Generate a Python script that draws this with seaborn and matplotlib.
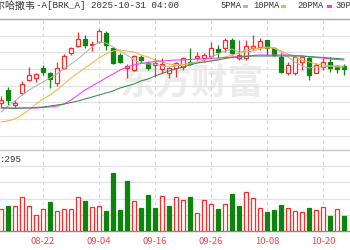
import matplotlib
matplotlib.use("Agg")
import matplotlib.pyplot as plt
from matplotlib.patches import Rectangle
import seaborn as sns

# ---------------- data (prices in thousands USD) ----------------
dates = ["08-14", "08-15", "08-18", "08-19", "08-20", "08-21", "08-22", "08-25", "08-26", "08-27",
         "08-28", "08-29", "09-02", "09-03", "09-04", "09-05", "09-08", "09-09", "09-10", "09-11",
         "09-12", "09-15", "09-16", "09-17", "09-18", "09-19", "09-22", "09-23", "09-24", "09-25",
         "09-26", "09-29", "09-30", "10-01", "10-02", "10-03", "10-06", "10-07", "10-08", "10-09",
         "10-10", "10-13", "10-14", "10-15", "10-16", "10-17", "10-20", "10-21", "10-22", "10-23"]
tick_dates = ["08-22", "09-04", "09-16", "09-26", "10-08", "10-20"]

opens = [709.6, 717.4, 708.4, 715.6, 723.4, 724.6, 730.6, 727.6, 721.6, 730.6,
         739.6, 743.8, 748.0, 744.4, 746.2, 751.6, 742.6, 738.4, 730.6, 729.4,
         737.2, 733.6, 732.4, 730.0, 727.6, 730.6, 731.2, 734.2, 736.6, 736.6,
         737.8, 742.0, 742.6, 747.4, 736.6, 736.6, 742.6, 743.2, 747.4, 742.6,
         737.2, 727.6, 727.6, 734.2, 736.6, 727.6, 731.2, 734.2, 731.8, 731.8]
highs = [713.8, 719.2, 711.4, 722.8, 731.2, 727.6, 732.4, 728.2, 734.2, 739.0,
         743.2, 752.2, 750.4, 746.8, 754.0, 752.8, 743.2, 739.6, 733.0, 738.4,
         738.4, 734.8, 736.6, 736.6, 731.2, 734.2, 737.2, 742.6, 740.2, 739.6,
         746.2, 744.4, 748.6, 748.6, 747.4, 747.4, 750.4, 748.6, 747.4, 743.2,
         739.6, 734.2, 738.4, 738.4, 737.2, 733.6, 736.6, 737.2, 732.4, 733.0]
lows = [707.2, 708.4, 706.6, 714.4, 722.8, 722.2, 726.4, 718.6, 719.8, 730.0,
        738.4, 743.2, 742.6, 740.8, 745.6, 741.4, 733.0, 733.6, 724.6, 728.8,
        733.6, 729.4, 725.2, 727.6, 724.6, 725.2, 729.4, 732.4, 735.4, 734.2,
        736.6, 736.6, 740.2, 738.4, 735.4, 735.4, 741.4, 741.4, 738.4, 737.8,
        727.6, 726.4, 726.4, 729.4, 723.4, 727.6, 729.4, 728.2, 727.6, 726.4]
closes = [711.4, 711.7, 709.6, 721.0, 726.4, 727.0, 728.2, 724.0, 730.6, 737.8,
          742.6, 748.0, 744.4, 745.3, 752.8, 744.4, 733.6, 734.2, 731.8, 737.8,
          735.4, 730.6, 733.6, 733.0, 730.6, 733.6, 736.6, 733.0, 737.8, 738.4,
          742.6, 740.2, 747.4, 739.6, 738.4, 743.8, 743.8, 746.8, 742.6, 738.4,
          728.2, 732.4, 737.2, 737.2, 726.4, 732.4, 734.2, 730.6, 730.0, 730.0]

ma5 = [704.2, 707.8, 710.8, 714.4, 717.4, 719.8, 722.2, 724.6, 727.0, 730.0,
       733.0, 736.0, 739.6, 743.2, 746.2, 745.6, 743.2, 740.8, 738.4, 735.4,
       733.6, 733.0, 733.0, 731.8, 731.2, 731.8, 732.4, 733.6, 734.2, 735.4,
       737.2, 739.0, 740.8, 742.0, 740.2, 740.2, 740.8, 742.0, 743.2, 742.6,
       740.2, 737.2, 734.2, 731.8, 730.6, 731.2, 731.2, 731.8, 731.2, 731.2]
ma10 = [698.2, 698.8, 700.0, 702.4, 705.4, 709.0, 712.0, 714.4, 717.4, 721.0,
        724.6, 727.6, 730.6, 733.6, 736.6, 739.0, 740.8, 741.4, 740.8, 740.2,
        738.4, 737.2, 735.4, 734.2, 733.0, 732.4, 732.4, 733.0, 733.6, 734.2,
        734.8, 736.0, 737.2, 738.4, 739.6, 741.4, 742.0, 742.6, 742.6, 742.6,
        740.8, 739.0, 737.2, 735.4, 734.2, 733.0, 732.4, 731.8, 731.8, 731.8]
ma20 = [706.6, 706.6, 706.6, 706.6, 706.6, 706.6, 706.9, 707.2, 707.8, 709.0,
        711.4, 714.4, 717.4, 719.8, 722.2, 724.6, 727.0, 729.4, 731.2, 732.4,
        733.3, 733.9, 734.5, 734.8, 735.1, 735.4, 735.4, 735.7, 736.0, 736.0,
        736.3, 736.6, 736.9, 737.2, 737.5, 737.8, 738.1, 738.4, 738.4, 738.4,
        738.4, 738.4, 738.1, 737.8, 737.2, 736.9, 736.6, 736.0, 735.7, 735.4]
ma30 = [706.6, 706.6, 706.3, 706.6, 706.6, 706.9, 707.2, 707.8, 708.4, 709.0,
        709.9, 710.8, 712.0, 713.2, 714.4, 715.6, 716.8, 718.6, 719.8, 721.0,
        722.8, 724.0, 725.8, 727.3, 728.8, 730.0, 731.2, 732.4, 733.6, 734.2,
        734.8, 735.4, 736.3, 736.9, 737.2, 737.5, 737.8, 737.8, 737.8, 737.8,
        737.8, 737.8, 737.8, 737.8, 737.5, 737.2, 736.9, 736.6, 736.3, 736.0]

volumes = [136, 156, 156, 212, 156, 99, 136, 179, 125, 136,
           136, 212, 185, 150, 156, 123, 360, 130, 309, 185,
           142, 222, 142, 218, 156, 210, 191, 212, 113, 191,
           168, 136, 168, 230, 156, 242, 202, 144, 119, 128,
           160, 144, 123, 119, 140, 130, 146, 91, 134, 91]
vol_up = [1, 0, 1, 1, 1, 1, 1, 0, 1, 1,
          1, 1, 0, 1, 1, 0, 0, 0, 0, 1,
          0, 0, 0, 1, 0, 1, 1, 0, 1, 1,
          1, 0, 1, 0, 0, 1, 1, 1, 0, 0,
          0, 1, 1, 1, 0, 1, 1, 0, 1, 0]

title_cn = "伯克希尔哈撒韦"
title_rest = "-A[BRK_A] 2025-10-31 04:00"
ma_names = ["5PMA", "10PMA", "20PMA", "30PMA"]
volume_label = ":295"

# ---------------- styling ----------------
RED = "#ff2a2a"
GREEN = "#0b850b"
MA_COLORS = ["#b4b4b4", "#f5b53a", "#ff33ff", "#3a8a52"]
GRID = "#e3e3e3"
MONO = ["Liberation Mono", "DejaVu Sans Mono"]

sns.set_theme(style="white")
plt.rcParams['font.family'] = ['Noto Sans CJK SC', 'DejaVu Sans']

W, H = 350, 250
fig = plt.figure(figsize=(W / 100, H / 100), dpi=100)
fig.patch.set_facecolor("white")


def rect(top, bottom):
    return [0, 1 - bottom / H, 1, (bottom - top) / H]


ax = fig.add_axes(rect(19, 150))
axv = fig.add_axes(rect(150, 231))

idx = list(range(len(dates)))
ref = dates.index(tick_dates[0])
xlim = (ref - 43 / 7, ref + (W - 43) / 7)
tick_pos = [dates.index(d) for d in tick_dates]

# ----- main price panel -----
ax.set_xlim(*xlim)
ax.set_ylim(681.4, 760)
ax.set_yticks([690, 700, 710, 720, 730, 740, 750])
ax.set_xticks(tick_pos)
ax.set_xticklabels([])
ax.set_yticklabels([])
ax.tick_params(length=0)
ax.grid(True, axis="y", color=GRID, linewidth=0.9, linestyle="-")
ax.grid(True, axis="x", color="#d6d6d6", linewidth=0.8, linestyle=(0, (3, 3)))
ax.set_axisbelow(True)
for s in ["left", "right", "bottom"]:
    ax.spines[s].set_visible(False)
ax.spines["top"].set_color("#a8a8a8")
ax.spines["top"].set_linewidth(1.0)

ax.text(192 / W, 1 - (83 - 19) / 131, "东方财富", transform=ax.transAxes,
        ha="center", va="center", fontsize=26, fontweight="bold",
        color="#ececec", zorder=0.5)

for i in idx:
    o, h, l, c = opens[i], highs[i], lows[i], closes[i]
    up = c >= o
    col = RED if up else GREEN
    ax.vlines(i, l, h, color=col, linewidth=0.9, zorder=2)
    ax.bar(i, max(abs(c - o), 0.3), bottom=min(o, c), width=0.6,
           facecolor="white" if up else GREEN, edgecolor=col, linewidth=0.9, zorder=3)

for vals, colr in zip([ma5, ma10, ma20, ma30], MA_COLORS):
    sns.lineplot(x=idx, y=vals, ax=ax, color=colr, linewidth=0.75, zorder=4)

# ----- volume panel -----
axv.set_xlim(*xlim)
axv.set_ylim(0, 500)
axv.set_yticks([100, 200, 300, 400])
axv.set_yticklabels([])
axv.set_xticks(tick_pos)
axv.set_xticklabels(tick_dates)
axv.tick_params(axis="x", length=0, labelsize=6.8, labelcolor="#f04848", pad=4)
axv.tick_params(axis="y", length=0)
axv.grid(True, axis="y", color=GRID, linewidth=0.9)
axv.grid(True, axis="x", color="#d6d6d6", linewidth=0.8, linestyle=(0, (3, 3)))
axv.set_axisbelow(True)
for s in ["left", "right"]:
    axv.spines[s].set_visible(False)
axv.spines["top"].set_color("#c8c8c8")
axv.spines["top"].set_linewidth(1.0)
axv.spines["bottom"].set_color("#8a8a8a")
axv.spines["bottom"].set_linewidth(1.0)

for i in idx:
    up = vol_up[i] == 1
    axv.bar(i, volumes[i], width=0.68, facecolor="white" if up else GREEN,
            edgecolor=RED if up else GREEN, linewidth=0.9, zorder=3)

# ----- header texts -----
fig.text(35.5 / W, 1 - 6 / H, title_cn, ha="right", va="center", fontsize=7.2, color="#333333")
fig.text(35.5 / W, 1 - 6 / H, title_rest, ha="left", va="center", fontsize=6.6,
         color="#333333", family=MONO)
legend_x = [220, 253, 297, 335]
marker_x = [243, 281, 327, 368]
for name, colr, tx, mx in zip(ma_names, MA_COLORS, legend_x, marker_x):
    fig.text(tx / W, 1 - 6 / H, name, ha="left", va="center", fontsize=6.3,
             color="#333333", family=MONO)
    fig.patches.append(Rectangle((mx / W, 1 - 7.5 / H), 5 / W, 2.5 / H,
                                 transform=fig.transFigure, facecolor=colr, edgecolor="none"))
fig.text(0, 1 - 160 / H, volume_label, ha="left", va="center", fontsize=6.6,
         color="#333333", family=MONO)

fig.savefig("out.png", dpi=100, facecolor="white")
